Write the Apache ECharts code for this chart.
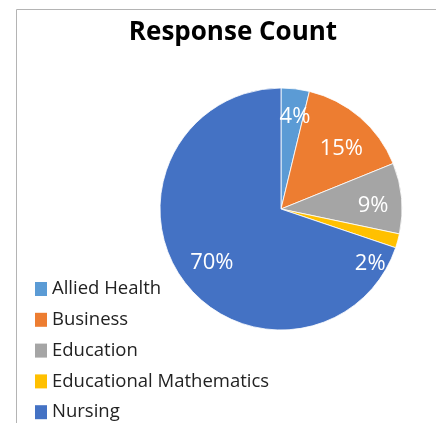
<!DOCTYPE html>
<html>
<head>
<meta charset="utf-8">
<script src="https://cdn.jsdelivr.net/npm/echarts@6/dist/echarts.min.js"></script>
<style>html,body{margin:0;padding:0;background:#fff;}#c{width:436px;height:423px;}</style>
</head>
<body>
<div id="c"></div>
<script>
const titleText = 'Response Count';
const categories = ['Allied Health', 'Business', 'Education', 'Educational Mathematics', 'Nursing'];
const counts = [2, 8, 5, 1, 37];
const colors = ['#5B9BD5', '#ED7D31', '#A5A5A5', '#FFC000', '#4472C4'];

const chart = echarts.init(document.getElementById('c'), null, {renderer: 'canvas'});
const pieData = categories.map((n, i) => ({name: n, value: counts[i]}));
const labelNudge = [{dx: 3}, {dy: 10}, {dy: 5}, {dy: 30}, {dx: 6}];
chart.setOption({
  animation: false,
  color: colors,
  title: {
    text: titleText,
    left: 228, textAlign: 'center', top: 15,
    textStyle: {fontFamily: 'Open Sans', fontWeight: 'bold', fontSize: 26, color: '#000'}
  },
  graphic: [{
    type: 'rect', shape: {x: 16.5, y: 9.5, width: 600, height: 600},
    style: {fill: 'none', stroke: '#b4b4b4', lineWidth: 1}, silent: true, z: -1
  }],
  legend: {
    orient: 'vertical', left: 30, top: 273, height: 220,
    itemWidth: 12, itemHeight: 14, itemGap: 8.8,
    data: categories.map((n, i) => ({name: n, icon: 'rect', itemStyle: {color: colors[i], borderWidth: 0, opacity: 1}})),
    textStyle: {fontFamily: 'Open Sans', fontSize: 18.5, color: '#222', lineHeight: 22}
  },
  series: [{
    type: 'pie',
    center: [281, 209], radius: [0, 121],
    startAngle: 90, clockwise: true,
    data: pieData,
    label: {show: false}, labelLine: {show: false},
    itemStyle: {borderColor: '#fff', borderWidth: 0.8},
    emphasis: {disabled: true}
  }, {
    type: 'pie',
    center: [281, 209], radius: [58, 121],
    startAngle: 90, clockwise: true,
    data: pieData,
    percentPrecision: 0,
    legendHoverLink: false,
    itemStyle: {color: 'rgba(0,0,0,0)'},
    label: {show: true, position: 'inside', formatter: '{d}%', color: '#fff',
            fontFamily: 'Open Sans', fontSize: 22},
    labelLine: {show: false},
    labelLayout: p => labelNudge[p.dataIndex],
    emphasis: {disabled: true},
    silent: true
  }]
});
</script>
</body>
</html>
